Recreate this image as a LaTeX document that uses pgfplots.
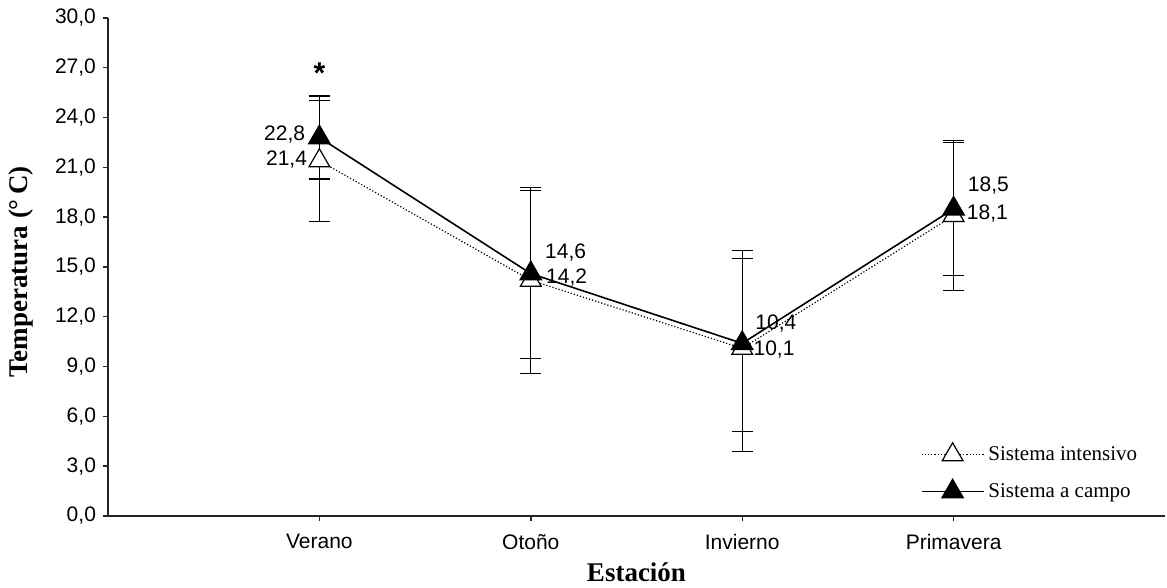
\documentclass[border=0pt]{standalone}
\usepackage{fontspec}
\setmainfont{Liberation Serif}
\setsansfont{Liberation Sans}
\usepackage{pgfplots}
\pgfplotsset{compat=1.18}
\begin{document}
\begin{tikzpicture}
\useasboundingbox (-54pt,-36pt) rectangle (529.5pt,258pt);
\begin{axis}[
  at={(0,0)}, anchor=south west,
  scale only axis, width=528.5pt, height=249pt,
  xmin=-1, xmax=4, ymin=0, ymax=30,
  axis x line=bottom, axis y line=left,
  axis line style={-, line width=0.9pt, black!85},
  xtick={0,1,2,3},
  xticklabels={Verano,Otoño,Invierno,Primavera},
  ytick={0,3,6,9,12,15,18,21,24,27,30},
  tick align=outside, major tick length=2.5pt,
  tick style={line width=0.7pt, black!85},
  /pgf/number format/assume math mode=true,
  y tick label style={/pgf/number format/.cd, fixed, fixed zerofill, precision=1, use comma},
  x tick label style={yshift=-3pt},
  tick label style={font=\sffamily\fontsize{10.5}{12}\selectfont},
  xlabel={Estación}, ylabel={Temperatura (°\,C)},
  label style={font=\rmfamily\bfseries\fontsize{13.5}{15}\selectfont},
  xlabel style={at={(axis description cs:0.5,0)}, anchor=base, yshift=-32.8pt},
  ylabel style={at={(axis description cs:0,0.49)}, anchor=center, yshift=43.5pt},
  clip=false,
  legend cell align=left,
  legend style={draw=none, fill=none, at={(axis description cs:0.9835,0.015)}, anchor=south east,
    font=\rmfamily\fontsize{10.5}{12}\selectfont, row sep=6pt},
  legend image code/.code={\draw[mark repeat=2,mark phase=2,#1] plot coordinates {(0pt,0pt) (15.5pt,0pt) (31pt,0pt)};},
]
\addplot[black, line width=0.6pt, densely dotted,
  mark=triangle*, mark size=6pt, mark options={solid, fill=white, draw=black, line width=0.6pt},
  error bars/.cd, y dir=both, y explicit,
  error bar style={solid, line width=0.6pt, black},
  error mark options={solid, rotate=90, mark size=5.2pt, line width=0.6pt, black}]
  coordinates {
  (0,21.4) += (0,3.65) -= (0,3.65)
  (1,14.2) += (0,5.6) -= (0,5.6)
  (2,10.1) += (0,5.4) -= (0,6.2)
  (3,18.1) += (0,4.5) -= (0,4.5)
  };
\addlegendentry{Sistema intensivo}
\addplot[black, line width=0.8pt,
  mark=triangle*, mark size=6pt, mark options={solid, fill=black, draw=black},
  error bars/.cd, y dir=both, y explicit,
  error bar style={solid, line width=0.6pt, black},
  error mark options={solid, rotate=90, mark size=5.2pt, line width=0.6pt, black}]
  coordinates {
  (0,22.8) += (0,2.5) -= (0,2.5)
  (1,14.6) += (0,5.0) -= (0,5.1)
  (2,10.4) += (0,5.6) -= (0,5.3)
  (3,18.5) += (0,4.0) -= (0,4.0)
  };
\addlegendentry{Sistema a campo}
\begin{scope}[every node/.style={font=\sffamily\fontsize{10.5}{12}\selectfont, inner sep=0pt}]
\node[anchor=base east] at (axis cs:-0.066,22.65) {22,8};
\node[anchor=base east] at (axis cs:-0.057,21.11) {21,4};
\node[anchor=base west] at (axis cs:1.066,15.51) {14,6};
\node[anchor=base west] at (axis cs:1.071,14.01) {14,2};
\node[anchor=base west] at (axis cs:2.061,11.25) {10,4};
\node[anchor=base west] at (axis cs:2.052,9.65) {10,1};
\node[anchor=base west] at (axis cs:3.066,19.55) {18,5};
\node[anchor=base west] at (axis cs:3.061,17.85) {18,1};
\end{scope}
\node[anchor=base, inner sep=0pt, font=\sffamily\bfseries\fontsize{15}{15}\selectfont] at (axis cs:0,26.05) {*};
\end{axis}
\end{tikzpicture}
\end{document}
